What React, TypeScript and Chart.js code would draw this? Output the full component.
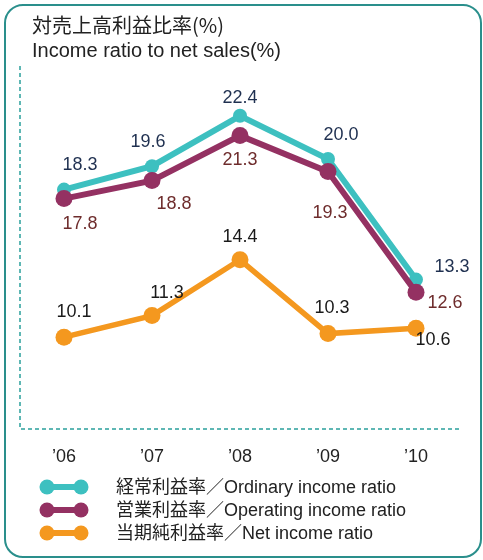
import { useEffect, useRef } from "react";
import { Chart, registerables } from "chart.js";

Chart.register(...registerables);

// ---- Data ----
const categories = ["’06", "’07", "’08", "’09", "’10"];
const ordinaryIncomeRatio = [18.3, 19.6, 22.4, 20.0, 13.3];
const operatingIncomeRatio = [17.8, 18.8, 21.3, 19.3, 12.6];
const netIncomeRatio = [10.1, 11.3, 14.4, 10.3, 10.6];
const seriesNames = [
  "経常利益率／Ordinary income ratio",
  "営業利益率／Operating income ratio",
  "当期純利益率／Net income ratio",
];
const titleLines = ["対売上高利益比率(%)", "Income ratio to net sales(%)"];
const yMin = 5;
const yMax = 25;

// ---- Styles ----
const FONT = "'Liberation Sans', Arial, 'Noto Sans CJK JP', sans-serif";
const JP_FONT = "'Noto Sans CJK JP', 'Liberation Sans', sans-serif";
const TEAL = "#3dc0c0";
const PURPLE = "#943162";
const ORANGE = "#f4981f";
const FRAME = "#2a8f8c";
const DASH = "#2aa09c";

// label offsets (px) relative to each point
const labelOffsets = [
  [[16, -25], [-4, -24], [0, -18], [13, -24], [36, -13]],
  [[16, 25], [22, 23], [0, 24], [2, 41], [29, 11]],
  [[10, -25], [15, -23], [0, -23], [4, -26], [17, 12]],
];
const labelColors = ["#1f3050", "#6e2c2c", "#1a1a1a"];
const seriesColors = [TEAL, PURPLE, ORANGE];

const decorPlugin = {
  id: "decor",
  beforeDraw(chart: any) {
    const ctx = chart.ctx;
    const { left, right, top, bottom } = chart.chartArea;
    ctx.save();
    // frame
    ctx.strokeStyle = FRAME;
    ctx.lineWidth = 2;
    ctx.beginPath();
    ctx.roundRect(5, 5, 476, 552, 18);
    ctx.stroke();
    // title
    ctx.fillStyle = "#222";
    ctx.textAlign = "left";
    ctx.textBaseline = "middle";
    ctx.font = `20px ${JP_FONT}`;
    ctx.fillText(titleLines[0], 32, 25);
    ctx.font = `20px ${FONT}`;
    ctx.fillText(titleLines[1], 32, 51);
    // dashed axes
    ctx.strokeStyle = DASH;
    ctx.lineWidth = 1.5;
    ctx.setLineDash([4, 3]);
    ctx.beginPath();
    ctx.moveTo(left, top - 3);
    ctx.lineTo(left, bottom);
    ctx.lineTo(right, bottom);
    ctx.stroke();
    ctx.setLineDash([]);
    // legend
    const rows = [487, 510, 533];
    rows.forEach((y, i) => {
      ctx.strokeStyle = seriesColors[i];
      ctx.fillStyle = seriesColors[i];
      ctx.lineWidth = 6;
      ctx.beginPath();
      ctx.moveTo(47, y);
      ctx.lineTo(81, y);
      ctx.stroke();
      [47, 81].forEach((cx) => {
        ctx.beginPath();
        ctx.arc(cx, y, 7.5, 0, Math.PI * 2);
        ctx.fill();
      });
      ctx.fillStyle = "#222";
      ctx.font = `18px ${FONT}`;
      ctx.textAlign = "left";
      ctx.textBaseline = "middle";
      ctx.fillText(seriesNames[i], 116, y + 1);
    });
    ctx.restore();
  },
  afterDatasetsDraw(chart: any) {
    const ctx = chart.ctx;
    ctx.save();
    ctx.font = `18px ${FONT}`;
    ctx.textAlign = "center";
    ctx.textBaseline = "middle";
    chart.data.datasets.forEach((ds: any, di: number) => {
      const meta = chart.getDatasetMeta(di);
      meta.data.forEach((pt: any, i: number) => {
        const [dx, dy] = labelOffsets[di][i];
        ctx.fillStyle = labelColors[di];
        ctx.fillText(Number(ds.data[i]).toFixed(1), pt.x + dx, pt.y + dy);
      });
    });
    ctx.restore();
  },
};

export default function App() {
  const ref = useRef<HTMLCanvasElement | null>(null);
  useEffect(() => {
    if (!ref.current) return;
    const chart = new Chart(ref.current, {
      type: "line",
      data: {
        labels: categories,
        datasets: [
          {
            label: seriesNames[0],
            data: ordinaryIncomeRatio,
            borderColor: TEAL,
            backgroundColor: TEAL,
            borderWidth: 6,
            pointRadius: 7,
            pointBorderWidth: 0,
            order: 1,
          },
          {
            label: seriesNames[1],
            data: operatingIncomeRatio,
            borderColor: PURPLE,
            backgroundColor: PURPLE,
            borderWidth: 6,
            pointRadius: 8.5,
            pointBorderWidth: 0,
            order: 0,
          },
          {
            label: seriesNames[2],
            data: netIncomeRatio,
            borderColor: ORANGE,
            backgroundColor: ORANGE,
            borderWidth: 5.5,
            pointRadius: 8.5,
            pointBorderWidth: 0,
            order: 2,
          },
        ],
      },
      options: {
        responsive: false,
        animation: false,
        devicePixelRatio: 1,
        layout: { padding: { left: 20, right: 23, top: 69, bottom: 0 } },
        plugins: {
          legend: { display: false },
          title: { display: false },
          tooltip: { enabled: false },
        },
        scales: {
          x: {
            offset: true,
            grid: { display: false, drawTicks: false },
            border: { display: false },
            ticks: {
              color: "#222",
              font: { size: 18, family: FONT },
              padding: 17,
              maxRotation: 0,
            },
            afterFit(scale: any) {
              scale.height = 131;
            },
          },
          y: {
            display: false,
            min: yMin,
            max: yMax,
          },
        },
      },
      plugins: [decorPlugin],
    });
    return () => chart.destroy();
  }, []);
  return (
    <div style={{ position: "absolute", left: 0, top: 0, width: 483, height: 560 }}>
      <canvas ref={ref} width={483} height={560} style={{ width: 483, height: 560 }} />
    </div>
  );
}
